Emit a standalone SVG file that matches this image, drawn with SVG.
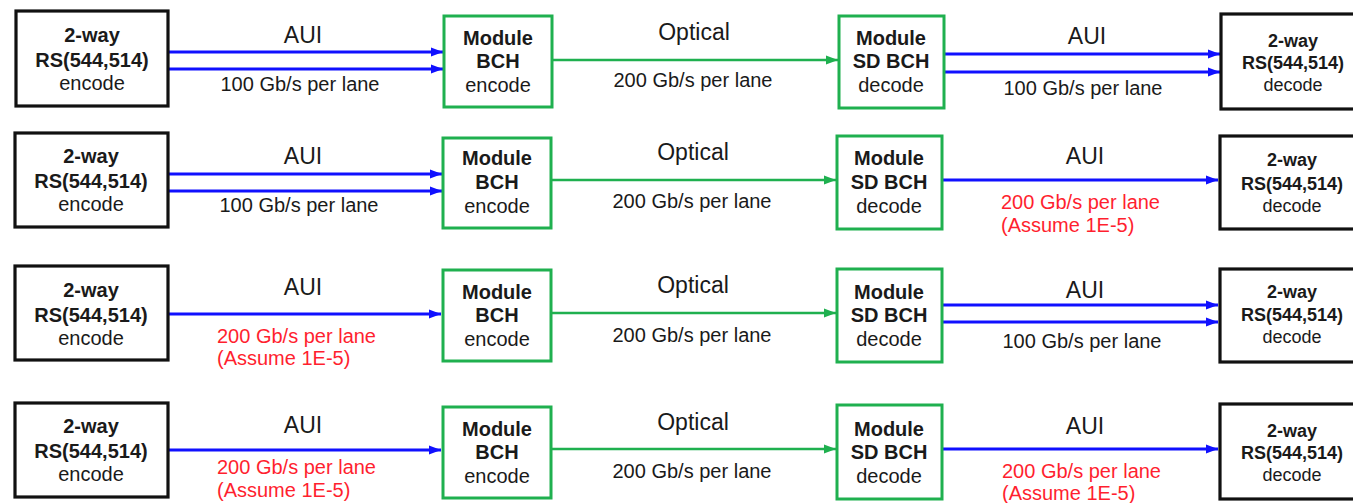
<svg xmlns="http://www.w3.org/2000/svg" width="1353" height="503" viewBox="0 0 1353 503">
<style>
  text { font-family: "Liberation Sans", Arial, sans-serif; fill: #1a1a1a; }
  .kbox { fill: #ffffff; stroke: #111111; stroke-width: 3.2; }
  .gbox { fill: #ffffff; stroke: #1fb04f; stroke-width: 3; }
  .nt { font-size: 20px; text-anchor: middle; }
  .rt { font-size: 18px; text-anchor: middle; }
  .b { font-weight: bold; }
  .big { font-size: 23px; text-anchor: middle; }
  .rate { font-size: 20px; text-anchor: middle; }
  .red { font-size: 20px; fill: #ff1f2f; }
  .blue { stroke: #1010ff; stroke-width: 3; fill: none; marker-end: url(#ab); }
  .green { stroke: #1fb04f; stroke-width: 2.6; fill: none; marker-end: url(#ag); }
</style>
<defs>
  <marker id="ab" markerUnits="userSpaceOnUse" markerWidth="13" markerHeight="10" refX="12" refY="5" orient="auto">
    <path d="M0,0.5 L12,5 L0,9.5 z" fill="#1010ff"/>
  </marker>
  <marker id="ag" markerUnits="userSpaceOnUse" markerWidth="13" markerHeight="10" refX="12" refY="5" orient="auto">
    <path d="M0,0.5 L12,5 L0,9.5 z" fill="#1fb04f"/>
  </marker>
</defs>
<rect width="1353" height="503" fill="#ffffff"/>

<g id="connectors">
  <line class="blue" x1="169" y1="52" x2="443" y2="52"/>
  <line class="blue" x1="169" y1="69" x2="443" y2="69"/>
  <line class="green" x1="553" y1="60" x2="838" y2="60"/>
  <line class="blue" x1="945" y1="54" x2="1220" y2="54"/>
  <line class="blue" x1="945" y1="72" x2="1220" y2="72"/>

  <line class="blue" x1="168" y1="174" x2="442" y2="174"/>
  <line class="blue" x1="168" y1="191" x2="442" y2="191"/>
  <line class="green" x1="551" y1="180" x2="836" y2="180"/>
  <line class="blue" x1="943" y1="180" x2="1218" y2="180"/>

  <line class="blue" x1="168" y1="314" x2="441" y2="314"/>
  <line class="green" x1="551" y1="313" x2="836" y2="313"/>
  <line class="blue" x1="943" y1="305" x2="1218" y2="305"/>
  <line class="blue" x1="943" y1="322" x2="1218" y2="322"/>

  <line class="blue" x1="168" y1="450" x2="441" y2="450"/>
  <line class="green" x1="551" y1="449" x2="836" y2="449"/>
  <line class="blue" x1="943" y1="449" x2="1218" y2="449"/>

  <text class="big" x="303" y="43">AUI</text>
  <text class="rate" x="300" y="91">100 Gb/s per lane</text>
  <text class="big" x="694" y="40">Optical</text>
  <text class="rate" x="693" y="87">200 Gb/s per lane</text>
  <text class="big" x="1087" y="44">AUI</text>
  <text class="rate" x="1083" y="95">100 Gb/s per lane</text>

  <text class="big" x="303" y="164">AUI</text>
  <text class="rate" x="299" y="212">100 Gb/s per lane</text>
  <text class="big" x="693" y="160">Optical</text>
  <text class="rate" x="692" y="208">200 Gb/s per lane</text>
  <text class="big" x="1085" y="164">AUI</text>
  <text class="red" x="1001" y="209">200 Gb/s per lane</text>
  <text class="red" x="1001" y="232">(Assume 1E-5)</text>

  <text class="big" x="303" y="295">AUI</text>
  <text class="red" x="217" y="343">200 Gb/s per lane</text>
  <text class="red" x="217" y="365">(Assume 1E-5)</text>
  <text class="big" x="693" y="293">Optical</text>
  <text class="rate" x="692" y="342">200 Gb/s per lane</text>
  <text class="big" x="1085" y="298">AUI</text>
  <text class="rate" x="1082" y="348">100 Gb/s per lane</text>

  <text class="big" x="303" y="433">AUI</text>
  <text class="red" x="217" y="474">200 Gb/s per lane</text>
  <text class="red" x="217" y="497">(Assume 1E-5)</text>
  <text class="big" x="693" y="430">Optical</text>
  <text class="rate" x="692" y="478">200 Gb/s per lane</text>
  <text class="big" x="1085" y="434">AUI</text>
  <text class="red" x="1002" y="478">200 Gb/s per lane</text>
  <text class="red" x="1002" y="500">(Assume 1E-5)</text>
</g>

<!-- Row 1 -->
<g id="r1-rs-enc">
  <rect class="kbox" x="16" y="11" width="152" height="95"/>
  <text class="nt b" x="92" y="42">2-way</text>
  <text class="nt b" x="92" y="67">RS(544,514)</text>
  <text class="nt" x="92" y="90">encode</text>
</g>
<g id="r1-bch-enc">
  <rect class="gbox" x="444" y="16" width="108" height="91"/>
  <text class="nt b" x="498" y="45">Module</text>
  <text class="nt b" x="498" y="68">BCH</text>
  <text class="nt" x="498" y="92">encode</text>
</g>
<g id="r1-sdbch-dec">
  <rect class="gbox" x="839" y="16" width="105" height="92"/>
  <text class="nt b" x="891" y="45">Module</text>
  <text class="nt b" x="891" y="68">SD BCH</text>
  <text class="nt" x="891" y="92">decode</text>
</g>
<g id="r1-rs-dec">
  <rect class="kbox" x="1221" y="14" width="150" height="95"/>
  <text class="rt b" x="1293" y="47">2-way</text>
  <text class="rt b" x="1293" y="69">RS(544,514)</text>
  <text class="rt" x="1293" y="91">decode</text>
</g>

<!-- Row 2 -->
<g id="r2-rs-enc">
  <rect class="kbox" x="15" y="133" width="153" height="94"/>
  <text class="nt b" x="91" y="163">2-way</text>
  <text class="nt b" x="91" y="188">RS(544,514)</text>
  <text class="nt" x="91" y="211">encode</text>
</g>
<g id="r2-bch-enc">
  <rect class="gbox" x="443" y="138" width="108" height="90"/>
  <text class="nt b" x="497" y="165">Module</text>
  <text class="nt b" x="497" y="189">BCH</text>
  <text class="nt" x="497" y="213">encode</text>
</g>
<g id="r2-sdbch-dec">
  <rect class="gbox" x="837" y="136" width="105" height="93"/>
  <text class="nt b" x="889" y="165">Module</text>
  <text class="nt b" x="889" y="189">SD BCH</text>
  <text class="nt" x="889" y="213">decode</text>
</g>
<g id="r2-rs-dec">
  <rect class="kbox" x="1220" y="136" width="150" height="93"/>
  <text class="rt b" x="1292" y="166">2-way</text>
  <text class="rt b" x="1292" y="190">RS(544,514)</text>
  <text class="rt" x="1292" y="212">decode</text>
</g>

<!-- Row 3 -->
<g id="r3-rs-enc">
  <rect class="kbox" x="15" y="266" width="153" height="94"/>
  <text class="nt b" x="91" y="297">2-way</text>
  <text class="nt b" x="91" y="322">RS(544,514)</text>
  <text class="nt" x="91" y="345">encode</text>
</g>
<g id="r3-bch-enc">
  <rect class="gbox" x="443" y="270" width="108" height="91"/>
  <text class="nt b" x="497" y="299">Module</text>
  <text class="nt b" x="497" y="322">BCH</text>
  <text class="nt" x="497" y="346">encode</text>
</g>
<g id="r3-sdbch-dec">
  <rect class="gbox" x="837" y="269" width="105" height="93"/>
  <text class="nt b" x="889" y="299">Module</text>
  <text class="nt b" x="889" y="322">SD BCH</text>
  <text class="nt" x="889" y="346">decode</text>
</g>
<g id="r3-rs-dec">
  <rect class="kbox" x="1220" y="269" width="150" height="93"/>
  <text class="rt b" x="1292" y="298">2-way</text>
  <text class="rt b" x="1292" y="321">RS(544,514)</text>
  <text class="rt" x="1292" y="343">decode</text>
</g>

<!-- Row 4 -->
<g id="r4-rs-enc">
  <rect class="kbox" x="15" y="403" width="153" height="94"/>
  <text class="nt b" x="91" y="433">2-way</text>
  <text class="nt b" x="91" y="458">RS(544,514)</text>
  <text class="nt" x="91" y="481">encode</text>
</g>
<g id="r4-bch-enc">
  <rect class="gbox" x="443" y="407" width="108" height="91"/>
  <text class="nt b" x="497" y="436">Module</text>
  <text class="nt b" x="497" y="459">BCH</text>
  <text class="nt" x="497" y="483">encode</text>
</g>
<g id="r4-sdbch-dec">
  <rect class="gbox" x="837" y="405" width="105" height="94"/>
  <text class="nt b" x="889" y="436">Module</text>
  <text class="nt b" x="889" y="459">SD BCH</text>
  <text class="nt" x="889" y="483">decode</text>
</g>
<g id="r4-rs-dec">
  <rect class="kbox" x="1220" y="404" width="150" height="95"/>
  <text class="rt b" x="1292" y="437">2-way</text>
  <text class="rt b" x="1292" y="459">RS(544,514)</text>
  <text class="rt" x="1292" y="481">decode</text>
</g>
</svg>
